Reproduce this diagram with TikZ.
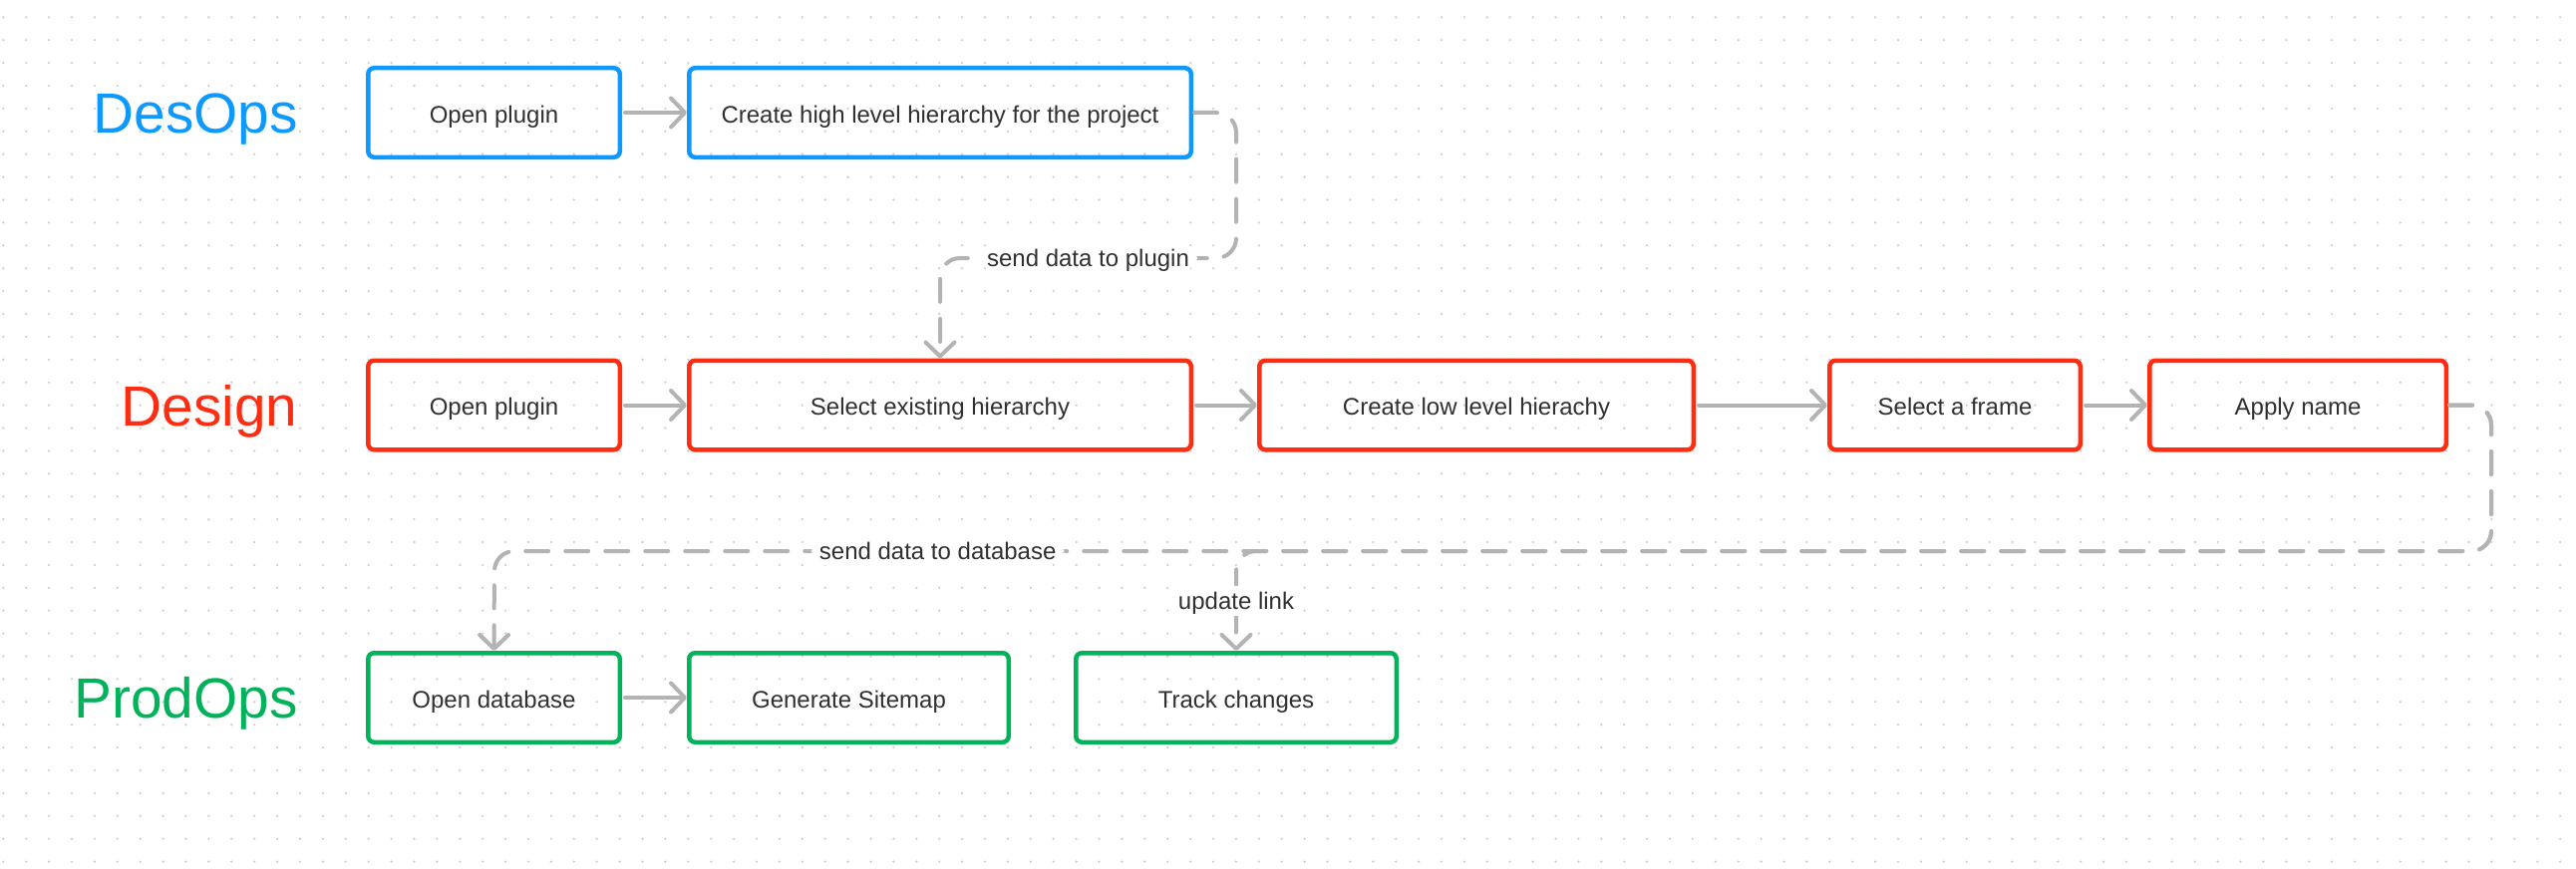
\documentclass[tikz,border=0pt]{standalone}
\usepackage{fontspec}
\setmainfont{Liberation Sans}
\usetikzlibrary{arrows.meta}
\definecolor{cblue}{HTML}{0D99FF}
\definecolor{cred}{HTML}{FF2E12}
\definecolor{cgreen}{HTML}{00B259}
\definecolor{cgray}{HTML}{B3B3B3}
\definecolor{ctext}{HTML}{303030}
\definecolor{cdot}{HTML}{D0D0D0}
\tikzset{
  stepbox/.style={draw, line width=2.25pt, rounded corners=3pt, inner sep=0pt,
    minimum height=44.75pt, text=ctext, font=\fontsize{12}{14}\selectfont,
    text height=12.8pt, text depth=2.5pt},
  bluebox/.style={stepbox, draw=cblue},
  redbox/.style={stepbox, draw=cred},
  greenbox/.style={stepbox, draw=cgreen},
  lane/.style={anchor=base east, inner sep=0pt, font=\fontsize{28.4}{32}\selectfont},
  flow/.style={draw=cgray, line width=2pt, line cap=round, line join=round,
    shorten <=1.5pt, -{Straight Barb[length=7pt,width=14.5pt,round]}},
  dashflow/.style={flow, shorten <=0.5pt, dash pattern=on 11.5pt off 8.5pt, rounded corners=10pt},
  lbl/.style={fill=white, text=ctext, font=\fontsize{12}{14}\selectfont,
    inner xsep=4pt, inner ysep=0.7pt, text height=11.2pt, text depth=2.5pt}
}
\begin{document}
\begin{tikzpicture}[x=0.5pt,y=-0.5pt]
\fill[white] (0,0) rectangle (2584,872);
\useasboundingbox (0,0) rectangle (2584,872);
% dotted canvas
\foreach \i in {0,...,112}{
  \foreach \j in {0,...,37}{
    \fill[cdot] ({3.3+22.9*\i},{17.3+22.9*\j}) circle[radius=0.65pt];
  }
}
% lane titles
\node[lane, text=cblue] (hdes) at (299,133.5) {DesOps};
\node[lane, text=cred] (hdesign) at (299,427) {Design};
\node[lane, text=cgreen] (hprod) at (299,720.5) {ProdOps};
% DesOps row
\node[bluebox, minimum width=126.25pt] (a1) at (495.5,113) {Open plugin};
\node[bluebox, minimum width=251.75pt] (b1) at (943,113) {Create high level hierarchy for the project};
% Design row
\node[redbox, minimum width=126.25pt] (a2) at (495.5,406.5) {Open plugin};
\node[redbox, minimum width=251.75pt] (b2) at (943,406.5) {Select existing hierarchy};
\node[redbox, minimum width=217.75pt] (c2) at (1481,406.5) {Create low level hierachy};
\node[redbox, minimum width=125.75pt] (d2) at (1961,406.5) {Select a frame};
\node[redbox, minimum width=148.75pt] (e2) at (2305,406.5) {Apply name};
% ProdOps row
\node[greenbox, minimum width=126.25pt] (a3) at (495.5,700) {Open database};
\node[greenbox, minimum width=160.25pt] (g3) at (851.5,700) {Generate Sitemap};
\node[greenbox, minimum width=160.75pt] (t3) at (1240,700) {Track changes};
% waypoints
\coordinate (w1) at (1240,113);
\coordinate (w2) at (1240,259);
\coordinate (w3) at (943,259);
\coordinate (w4) at (2499,406.5);
\coordinate (w5) at (2499,553);
\coordinate (w6) at (496,553);
\coordinate (w7) at (1240,553);
% solid flows
\draw[flow] (a1.east) -- (b1.west);
\draw[flow] (a2.east) -- (b2.west);
\draw[flow] (b2.east) -- (c2.west);
\draw[flow] (c2.east) -- (d2.west);
\draw[flow] (d2.east) -- (e2.west);
\draw[flow] (a3.east) -- (g3.west);
% dashed flows
\draw[dashflow] (b1.east) -- (w1) -- (w2) -- node[lbl] (l1) {send data to plugin} (w3) -- (b2.north);
\draw[dashflow] (e2.east) -- (w4) -- (w5) -- (w7) -- node[lbl] (l3) {update link} (t3.north);
\draw[dashflow] (e2.east) -- (w4) -- (w5) -- node[lbl, pos=0.778] (l2) {send data to database} (w6) -- (a3.north);
\end{tikzpicture}
\end{document}
